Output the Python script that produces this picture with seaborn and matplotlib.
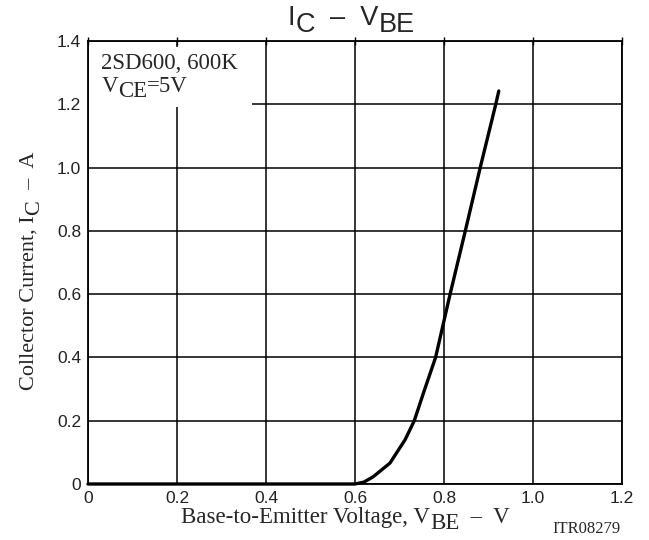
import matplotlib
matplotlib.use("Agg")
import matplotlib.pyplot as plt
import seaborn as sns
import numpy as np
from matplotlib.patches import Rectangle

# ---- data ----
vbe = [0.0, 0.2, 0.4, 0.6, 0.62, 0.64, 0.6785, 0.7126, 0.7332, 0.7544, 0.7811,
       0.8137, 0.8479, 0.8814, 0.9163, 0.9231]
ic = [0.0, 0.0, 0.0, 0.0, 0.006, 0.022, 0.066, 0.14, 0.2, 0.29, 0.4,
      0.6, 0.8, 1.0, 1.2, 1.242]
xticks = [0.0, 0.2, 0.4, 0.6, 0.8, 1.0, 1.2]
xticklabels = ["0", "0.2", "0.4", "0.6", "0.8", "1.0", "1.2"]
yticks = [0.0, 0.2, 0.4, 0.6, 0.8, 1.0, 1.2, 1.4]
yticklabels = ["0", "0.2", "0.4", "0.6", "0.8", "1.0", "1.2", "1.4"]

sns.set_style("white")
plt.rcParams["font.family"] = ["Liberation Sans", "DejaVu Sans"]

SERIF = ["Liberation Serif", "DejaVu Serif"]
SANS = ["Liberation Sans", "DejaVu Sans"]

fig = plt.figure(figsize=(6.49, 5.40), dpi=100)
ax = fig.add_axes([88 / 649, 56 / 540, 534 / 649, 443 / 540])

sns.lineplot(x=vbe, y=ic, ax=ax, color="black", linewidth=2.4,
             estimator=None, sort=False, zorder=5, clip_on=False)

ax.set_xlim(0, 1.2)
ax.set_ylim(0, 1.4)
ax.set_xticks(xticks)
ax.set_xticklabels(xticklabels)
ax.set_yticks(yticks)
ax.set_yticklabels(yticklabels)
ax.grid(True, color="black", linewidth=1.1)
ax.set_axisbelow(True)
for s in ax.spines.values():
    s.set_color("black")
    s.set_linewidth(1.3)
    s.set_zorder(6)
ax.tick_params(axis="both", direction="inout", length=6, width=1.0,
               color="black", labelsize=12.5, labelcolor="#222222", pad=2,
               top=True)
ax.tick_params(axis="x", pad=2)

# white box hiding the grid behind the annotation
ax.add_patch(Rectangle((0.002, 1.19), 0.366, 0.19, transform=ax.transData,
                       facecolor="white", edgecolor="none", zorder=2))
ax.text(0.03, 1.31, "2SD600, 600K", fontsize=16.5, family=SERIF,
        ha="left", va="baseline", zorder=7)


def chain(x, y, pieces, size, family, rotation=0, **kw):
    """Place text pieces one after another; each piece: (text, shift in points)."""
    if rotation == 0:
        t = fig.text(x, y, pieces[0][0], fontsize=size, family=family,
                     ha="left", va="baseline", **kw)
    else:
        t = fig.text(x, y, pieces[0][0], fontsize=size, family=family,
                     ha="left", va="bottom", rotation=90, **kw)
    prev = pieces[0][1]
    for txt, dy in pieces[1:]:
        if rotation == 0:
            t = ax.annotate(txt, xy=(1, 0), xycoords=t,
                            xytext=(0, dy - prev), textcoords="offset points",
                            fontsize=size, family=family, ha="left",
                            va="bottom", annotation_clip=False, **kw)
        else:
            t = ax.annotate(txt, xy=(0, 1), xycoords=t,
                            xytext=(-(dy - prev), 0), textcoords="offset points",
                            fontsize=size, family=family, ha="left",
                            va="bottom", rotation=90, annotation_clip=False,
                            **kw)
        prev = dy
    return t


# V_CE=5V inside box
p0 = ax.transData.transform((0.03, 1.24))
p0 = fig.transFigure.inverted().transform(p0)
chain(p0[0], p0[1], [("V", 0), ("CE", -4), ("=5V", 0)], 16.5, SERIF, zorder=7)

# title I_C - V_BE
chain(288 / 649, (540 - 25) / 540,
      [("I", 0), ("C", -5), ("  \u2013  V", 0), ("BE", -5)], 19.5, SANS)

# x label
chain(181 / 649, (540 - 523) / 540,
      [("Base-to-Emitter Voltage, V", 0), ("BE", -4), ("  \u2013  V", 0)],
      16.5, SERIF)

# y label (rotated)
chain(20 / 649, (540 - 390) / 540,
      [("Collector Current, I", 0), ("C", -4), ("  \u2013  A", 0)],
      16, SERIF, rotation=90)

fig.text(552 / 649, (540 - 533) / 540, "ITR08279", fontsize=12, family=SERIF,
         ha="left", va="baseline")

fig.savefig("out.png", dpi=100)
